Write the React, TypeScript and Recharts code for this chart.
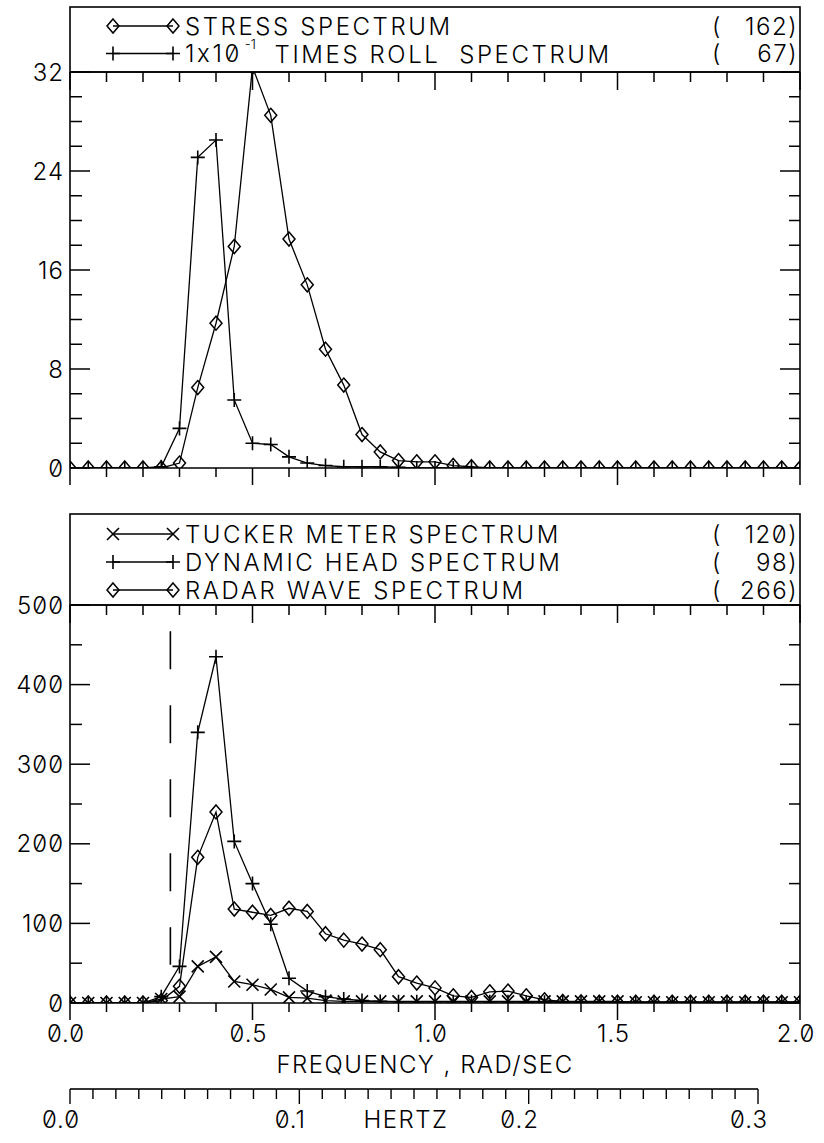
import React from 'react';
import { Line, LineChart, ReferenceLine, XAxis, YAxis } from 'recharts';

// frequency, rad/sec
const frequency = [
  0.0, 0.05, 0.1, 0.15, 0.2, 0.25, 0.3, 0.35, 0.4, 0.45, 0.5, 0.55, 0.6, 0.65,
  0.7, 0.75, 0.8, 0.85, 0.9, 0.95, 1.0, 1.05, 1.1, 1.15, 1.2, 1.25, 1.3, 1.35,
  1.4, 1.45, 1.5, 1.55, 1.6, 1.65, 1.7, 1.75, 1.8, 1.85, 1.9, 1.95, 2.0,
];

// upper panel
const stressSpectrum = [
  0, 0, 0, 0, 0, 0, 0.4, 6.5, 11.7, 17.9, 32.4, 28.5, 18.5, 14.8, 9.6, 6.7,
  2.7, 1.3, 0.6, 0.5, 0.5, 0.2, 0.1, 0, 0, 0, 0, 0, 0, 0, 0, 0, 0, 0, 0, 0, 0,
  0, 0, 0, 0,
];
const rollSpectrum = [
  0, 0, 0, 0, 0, 0.1, 3.2, 25.1, 26.5, 5.5, 2.0, 1.9, 0.9, 0.4, 0.2, 0.1, 0.1,
  0.1, 0.05, 0, 0, 0, 0, 0, 0, 0, 0, 0, 0, 0, 0, 0, 0, 0, 0, 0, 0, 0, 0, 0, 0,
];

// lower panel
const tuckerSpectrum = [
  0, 0, 0, 0, 0, 5, 8, 46, 58, 27, 23, 17, 7, 6, 3, 2, 2, 2, 2, 2, 2, 2, 2, 2,
  2, 2, 2, 2, 2, 2, 2, 1, 1, 1, 1, 1, 1, 1, 1, 1, 1,
];
const dynamicHeadSpectrum = [
  0, 0, 0, 0, 0, 8, 46, 340, 435, 203, 150, 99, 31, 15, 8, 5, 3, 2, 1.5, 1.5,
  1.5, 1.5, 1.5, 1.5, 1.5, 1, 1, 1, 1, 1, 1, 1, 1, 1, 1, 1, 1, 1, 1, 1, 1,
];
const radarSpectrum = [
  0, 0, 0, 0, 0, 3, 21, 183, 240, 118, 114, 110, 119, 115, 87, 79, 74, 67, 33,
  25, 19, 9, 7, 14, 15, 9, 4, 2, 1.5, 1, 1, 1, 1, 1, 1, 1, 1, 1, 1, 1, 1,
];

const cutoffFrequency = 0.275;
const cutoffRange = [467, 48];

const freqTicks = [
  0, 0.1, 0.2, 0.3, 0.4, 0.5, 0.6, 0.7, 0.8, 0.9, 1.0, 1.1, 1.2, 1.3, 1.4, 1.5,
  1.6, 1.7, 1.8, 1.9, 2.0,
];
const freqMajorTicks = [0, 0.5, 1.0, 1.5, 2.0];
const freqTickLabels = ['0.0', '0.5', '1.0', '1.5', '2.0'];

const stressTicks = [0, 2, 4, 6, 8, 10, 12, 14, 16, 18, 20, 22, 24, 26, 28, 30, 32];
const stressMajorTicks = [0, 8, 16, 24, 32];
const stressTickLabels = ['0', '8', '16', '24', '32'];

const headTicks = [0, 50, 100, 150, 200, 250, 300, 350, 400, 450, 500];
const headMajorTicks = [0, 100, 200, 300, 400, 500];
const headTickLabels = ['0', '100', '200', '300', '400', '500'];

const hertzTicks = [
  0, 0.01, 0.02, 0.03, 0.04, 0.05, 0.06, 0.07, 0.08, 0.09, 0.1, 0.11, 0.12,
  0.13, 0.14, 0.15, 0.16, 0.17, 0.18, 0.19, 0.2, 0.21, 0.22, 0.23, 0.24, 0.25,
  0.26, 0.27, 0.28, 0.29, 0.3,
];
const hertzMajorTicks = [0, 0.1, 0.2, 0.3];
const hertzTickLabels = ['0.0', '0.1', '0.2', '0.3'];
const hertzMax = 2.0 / (2 * Math.PI);

const topLegend = [
  { marker: 'diamond', label: 'STRESS SPECTRUM', total: '162' },
  { marker: 'plus', label: 'TIMES ROLL SPECTRUM', total: '67' },
];
const bottomLegend = [
  { marker: 'cross', label: 'TUCKER METER SPECTRUM', total: '120' },
  { marker: 'plus', label: 'DYNAMIC HEAD SPECTRUM', total: '98' },
  { marker: 'diamond', label: 'RADAR WAVE SPECTRUM', total: '266' },
];

const topData = frequency.map((f, i) => ({
  f,
  stress: stressSpectrum[i],
  roll: rollSpectrum[i],
}));
const bottomData = frequency.map((f, i) => ({
  f,
  hz: f / (2 * Math.PI),
  tucker: tuckerSpectrum[i],
  head: dynamicHeadSpectrum[i],
  radar: radarSpectrum[i],
}));

const INK = '#000';
const FONT_SIZE = 24;

const Diamond = (props: any) => {
  const { cx, cy } = props;
  if (cx == null || cy == null) return null;
  return (
    <path
      d={`M${cx},${cy - 7}L${cx + 6},${cy}L${cx},${cy + 7}L${cx - 6},${cy}Z`}
      fill="none"
      stroke={INK}
      strokeWidth={1.5}
    />
  );
};

const Plus = (props: any) => {
  const { cx, cy } = props;
  if (cx == null || cy == null) return null;
  return (
    <path
      d={`M${cx - 7},${cy}H${cx + 7}M${cx},${cy - 7}V${cy + 7}`}
      fill="none"
      stroke={INK}
      strokeWidth={1.6}
    />
  );
};

const Cross = (props: any) => {
  const { cx, cy } = props;
  if (cx == null || cy == null) return null;
  return (
    <path
      d={`M${cx - 6},${cy - 6}L${cx + 6},${cy + 6}M${cx - 6},${cy + 6}L${cx + 6},${cy - 6}`}
      fill="none"
      stroke={INK}
      strokeWidth={1.6}
    />
  );
};

const markerFor = (m: string, cx: number, cy: number) => {
  if (m === 'diamond') return <Diamond cx={cx} cy={cy} />;
  if (m === 'plus') return <Plus cx={cx} cy={cy} />;
  return <Cross cx={cx} cy={cy} />;
};

// ticks hanging below a bottom axis, optional labels
const makeBottomTick = (withLabels: boolean) => (props: any) => {
  const { x, y, payload } = props;
  const k = freqMajorTicks.indexOf(payload.value);
  return (
    <g>
      <line x1={x} y1={y} x2={x} y2={y + (k >= 0 ? 17 : 9)} stroke={INK} strokeWidth={1.5} />
      {withLabels && k >= 0 && (
        <text x={x - 4} y={y + 30} textAnchor="middle" dominantBaseline="central" fill={INK} fontSize={FONT_SIZE} letterSpacing={1}>
          {freqTickLabels[k]}
        </text>
      )}
      {withLabels && payload.value === 1.0 && (
        <text x={x - 10} y={y + 61} textAnchor="middle" dominantBaseline="central" fill={INK} fontSize={FONT_SIZE} letterSpacing={1.5}>
          FREQUENCY , RAD/SEC
        </text>
      )}
    </g>
  );
};

const TopTick = (props: any) => {
  const { x, y, payload } = props;
  const major = freqMajorTicks.includes(payload.value);
  return <line x1={x} y1={y} x2={x} y2={y + (major ? 18 : 10)} stroke={INK} strokeWidth={1.5} />;
};

const makeLeftTick = (majors: number[], labels: string[]) => (props: any) => {
  const { x, y, payload } = props;
  const k = majors.indexOf(payload.value);
  return (
    <g>
      <line x1={x} y1={y} x2={x + (k >= 0 ? 20 : 12)} y2={y} stroke={INK} strokeWidth={1.5} />
      {k >= 0 && (
        <text x={x - 6} y={y} textAnchor="end" dominantBaseline="central" fill={INK} fontSize={FONT_SIZE} letterSpacing={1}>
          {labels[k]}
        </text>
      )}
    </g>
  );
};

const makeRightTick = (majors: number[]) => (props: any) => {
  const { x, y, payload } = props;
  const major = majors.includes(payload.value);
  return <line x1={x} y1={y} x2={x - (major ? 20 : 11)} y2={y} stroke={INK} strokeWidth={1.5} />;
};

// hertz scale: tick marks plus the axis line, which stops at 0.3 Hz
const HertzTick = (props: any) => {
  const { x, y, payload, index } = props;
  const axisWidth = typeof props.width === 'number' && props.width > 100 ? props.width : 730;
  const step = (axisWidth * 0.01) / hertzMax;
  const k = hertzMajorTicks.indexOf(payload.value);
  return (
    <g>
      {index > 0 && <line x1={x - step} y1={y} x2={x} y2={y} stroke={INK} strokeWidth={1.6} />}
      <line x1={x} y1={y} x2={x} y2={y + (k >= 0 ? 15 : 10)} stroke={INK} strokeWidth={1.4} />
      {k >= 0 && (
        <text x={x - 9} y={y + 30} textAnchor="middle" dominantBaseline="central" fill={INK} fontSize={FONT_SIZE} letterSpacing={1}>
          {hertzTickLabels[k]}
        </text>
      )}
      {payload.value === 0.15 && (
        <text x={x - 8} y={y + 30} textAnchor="middle" dominantBaseline="central" fill={INK} fontSize={FONT_SIZE} letterSpacing={1.5}>
          HERTZ
        </text>
      )}
    </g>
  );
};

const axisLine = { stroke: INK, strokeWidth: 1.6 };

const LegendBox = ({ top, height, rows, rowTop, rowGap }: any) => (
  <g>
    <rect x={70} y={top} width={730} height={height} fill="none" stroke={INK} strokeWidth={1.6} />
    {rows.map((r: any, i: number) => {
      const cy = rowTop + i * rowGap;
      return (
        <g key={r.label}>
          <line x1={113} y1={cy} x2={173} y2={cy} stroke={INK} strokeWidth={1.4} />
          {markerFor(r.marker, 113, cy)}
          {markerFor(r.marker, 173, cy)}
          {r.label === 'TIMES ROLL SPECTRUM' ? (
            <text x={185} y={cy} dominantBaseline="central" fill={INK} fontSize={FONT_SIZE} letterSpacing={2.6} style={{ whiteSpace: 'pre' }}>
              1x10
              <tspan dx={3} dy={-10} fontSize={13} letterSpacing={0}>-1</tspan>
              <tspan dy={10}>{'  TIMES ROLL  SPECTRUM'}</tspan>
            </text>
          ) : (
            <text x={185} y={cy} dominantBaseline="central" fill={INK} fontSize={FONT_SIZE} letterSpacing={2.6}>
              {r.label}
            </text>
          )}
          <text x={712} y={cy} dominantBaseline="central" fill={INK} fontSize={FONT_SIZE}>
            (
          </text>
          <text x={798} y={cy} textAnchor="end" dominantBaseline="central" fill={INK} fontSize={FONT_SIZE} letterSpacing={1.5}>
            {r.total})
          </text>
        </g>
      );
    })}
  </g>
);

const App = () => {
  return (
    <div
      style={{
        position: 'absolute',
        left: 0,
        top: 0,
        width: 824,
        height: 1143,
        background: '#fff',
        fontFamily: 'Inter, "DejaVu Sans", sans-serif',
        fontWeight: 300,
        fontVariantNumeric: 'slashed-zero',
      }}>
      <div style={{ position: 'absolute', left: 0, top: 0 }}>
        <LineChart width={824} height={500} data={topData} margin={{ top: 71, right: 23, bottom: 2, left: 0 }}>
          <XAxis
            dataKey="f"
            type="number"
            domain={[0, 2]}
            allowDataOverflow
            ticks={freqTicks}
            interval={0}
            height={30}
            tickSize={0}
            tickMargin={0}
            tickLine={false}
            axisLine={axisLine}
            tick={makeBottomTick(false)}
          />
          <XAxis
            xAxisId="top"
            dataKey="f"
            orientation="top"
            type="number"
            domain={[0, 2]}
            allowDataOverflow
            ticks={freqTicks}
            interval={0}
            height={1}
            tickSize={0}
            tickMargin={0}
            tickLine={false}
            axisLine={axisLine}
            tick={<TopTick />}
          />
          <YAxis
            type="number"
            domain={[0, 32]}
            allowDataOverflow
            ticks={stressTicks}
            interval={0}
            width={70}
            tickSize={0}
            tickMargin={0}
            tickLine={false}
            axisLine={axisLine}
            tick={makeLeftTick(stressMajorTicks, stressTickLabels)}
          />
          <YAxis
            yAxisId="right"
            orientation="right"
            type="number"
            domain={[0, 32]}
            allowDataOverflow
            ticks={stressTicks}
            interval={0}
            width={1}
            tickSize={0}
            tickMargin={0}
            tickLine={false}
            axisLine={axisLine}
            tick={makeRightTick(stressMajorTicks)}
          />
          <Line
            dataKey="roll"
            type="linear"
            stroke={INK}
            strokeWidth={1.3}
            dot={<Plus />}
            activeDot={false}
            isAnimationActive={false}
          />
          <Line
            dataKey="stress"
            type="linear"
            stroke={INK}
            strokeWidth={1.3}
            dot={<Diamond />}
            activeDot={false}
            isAnimationActive={false}
          />
        </LineChart>
      </div>
      <div style={{ position: 'absolute', left: 0, top: 500 }}>
        <LineChart width={824} height={640} data={bottomData} margin={{ top: 104, right: 23, bottom: 0, left: 0 }}>
          <XAxis
            dataKey="f"
            type="number"
            domain={[0, 2]}
            allowDataOverflow
            ticks={freqTicks}
            interval={0}
            height={86}
            tickSize={0}
            tickMargin={0}
            tickLine={false}
            axisLine={axisLine}
            tick={makeBottomTick(true)}
          />
          <XAxis
            xAxisId="hz"
            dataKey="hz"
            type="number"
            domain={[0, hertzMax]}
            allowDataOverflow
            ticks={hertzTicks}
            interval={0}
            height={51}
            tickSize={0}
            tickMargin={0}
            tickLine={false}
            axisLine={false}
            tick={<HertzTick />}
          />
          <XAxis
            xAxisId="top"
            dataKey="f"
            orientation="top"
            type="number"
            domain={[0, 2]}
            allowDataOverflow
            ticks={freqTicks}
            interval={0}
            height={1}
            tickSize={0}
            tickMargin={0}
            tickLine={false}
            axisLine={axisLine}
            tick={<TopTick />}
          />
          <YAxis
            type="number"
            domain={[0, 500]}
            allowDataOverflow
            ticks={headTicks}
            interval={0}
            width={70}
            tickSize={0}
            tickMargin={0}
            tickLine={false}
            axisLine={axisLine}
            tick={makeLeftTick(headMajorTicks, headTickLabels)}
          />
          <YAxis
            yAxisId="right"
            orientation="right"
            type="number"
            domain={[0, 500]}
            allowDataOverflow
            ticks={headTicks}
            interval={0}
            width={1}
            tickSize={0}
            tickMargin={0}
            tickLine={false}
            axisLine={axisLine}
            tick={makeRightTick(headMajorTicks)}
          />
          <ReferenceLine
            segment={[
              { x: cutoffFrequency, y: cutoffRange[0] },
              { x: cutoffFrequency, y: cutoffRange[1] },
            ]}
            stroke={INK}
            strokeWidth={1.6}
            strokeDasharray="38 36"
          />
          <Line
            dataKey="radar"
            type="linear"
            stroke={INK}
            strokeWidth={1.3}
            dot={<Diamond />}
            activeDot={false}
            isAnimationActive={false}
          />
          <Line
            dataKey="head"
            type="linear"
            stroke={INK}
            strokeWidth={1.3}
            dot={<Plus />}
            activeDot={false}
            isAnimationActive={false}
          />
          <Line
            dataKey="tucker"
            type="linear"
            stroke={INK}
            strokeWidth={1.3}
            dot={<Cross />}
            activeDot={false}
            isAnimationActive={false}
          />
        </LineChart>
      </div>
      <svg
        width={824}
        height={1143}
        style={{ position: 'absolute', left: 0, top: 0, pointerEvents: 'none' }}>
        <LegendBox top={7} height={65} rows={topLegend} rowTop={26} rowGap={27.5} />
        <LegendBox top={514} height={91} rows={bottomLegend} rowTop={534} rowGap={28} />
      </svg>
    </div>
  );
};

export default App;
